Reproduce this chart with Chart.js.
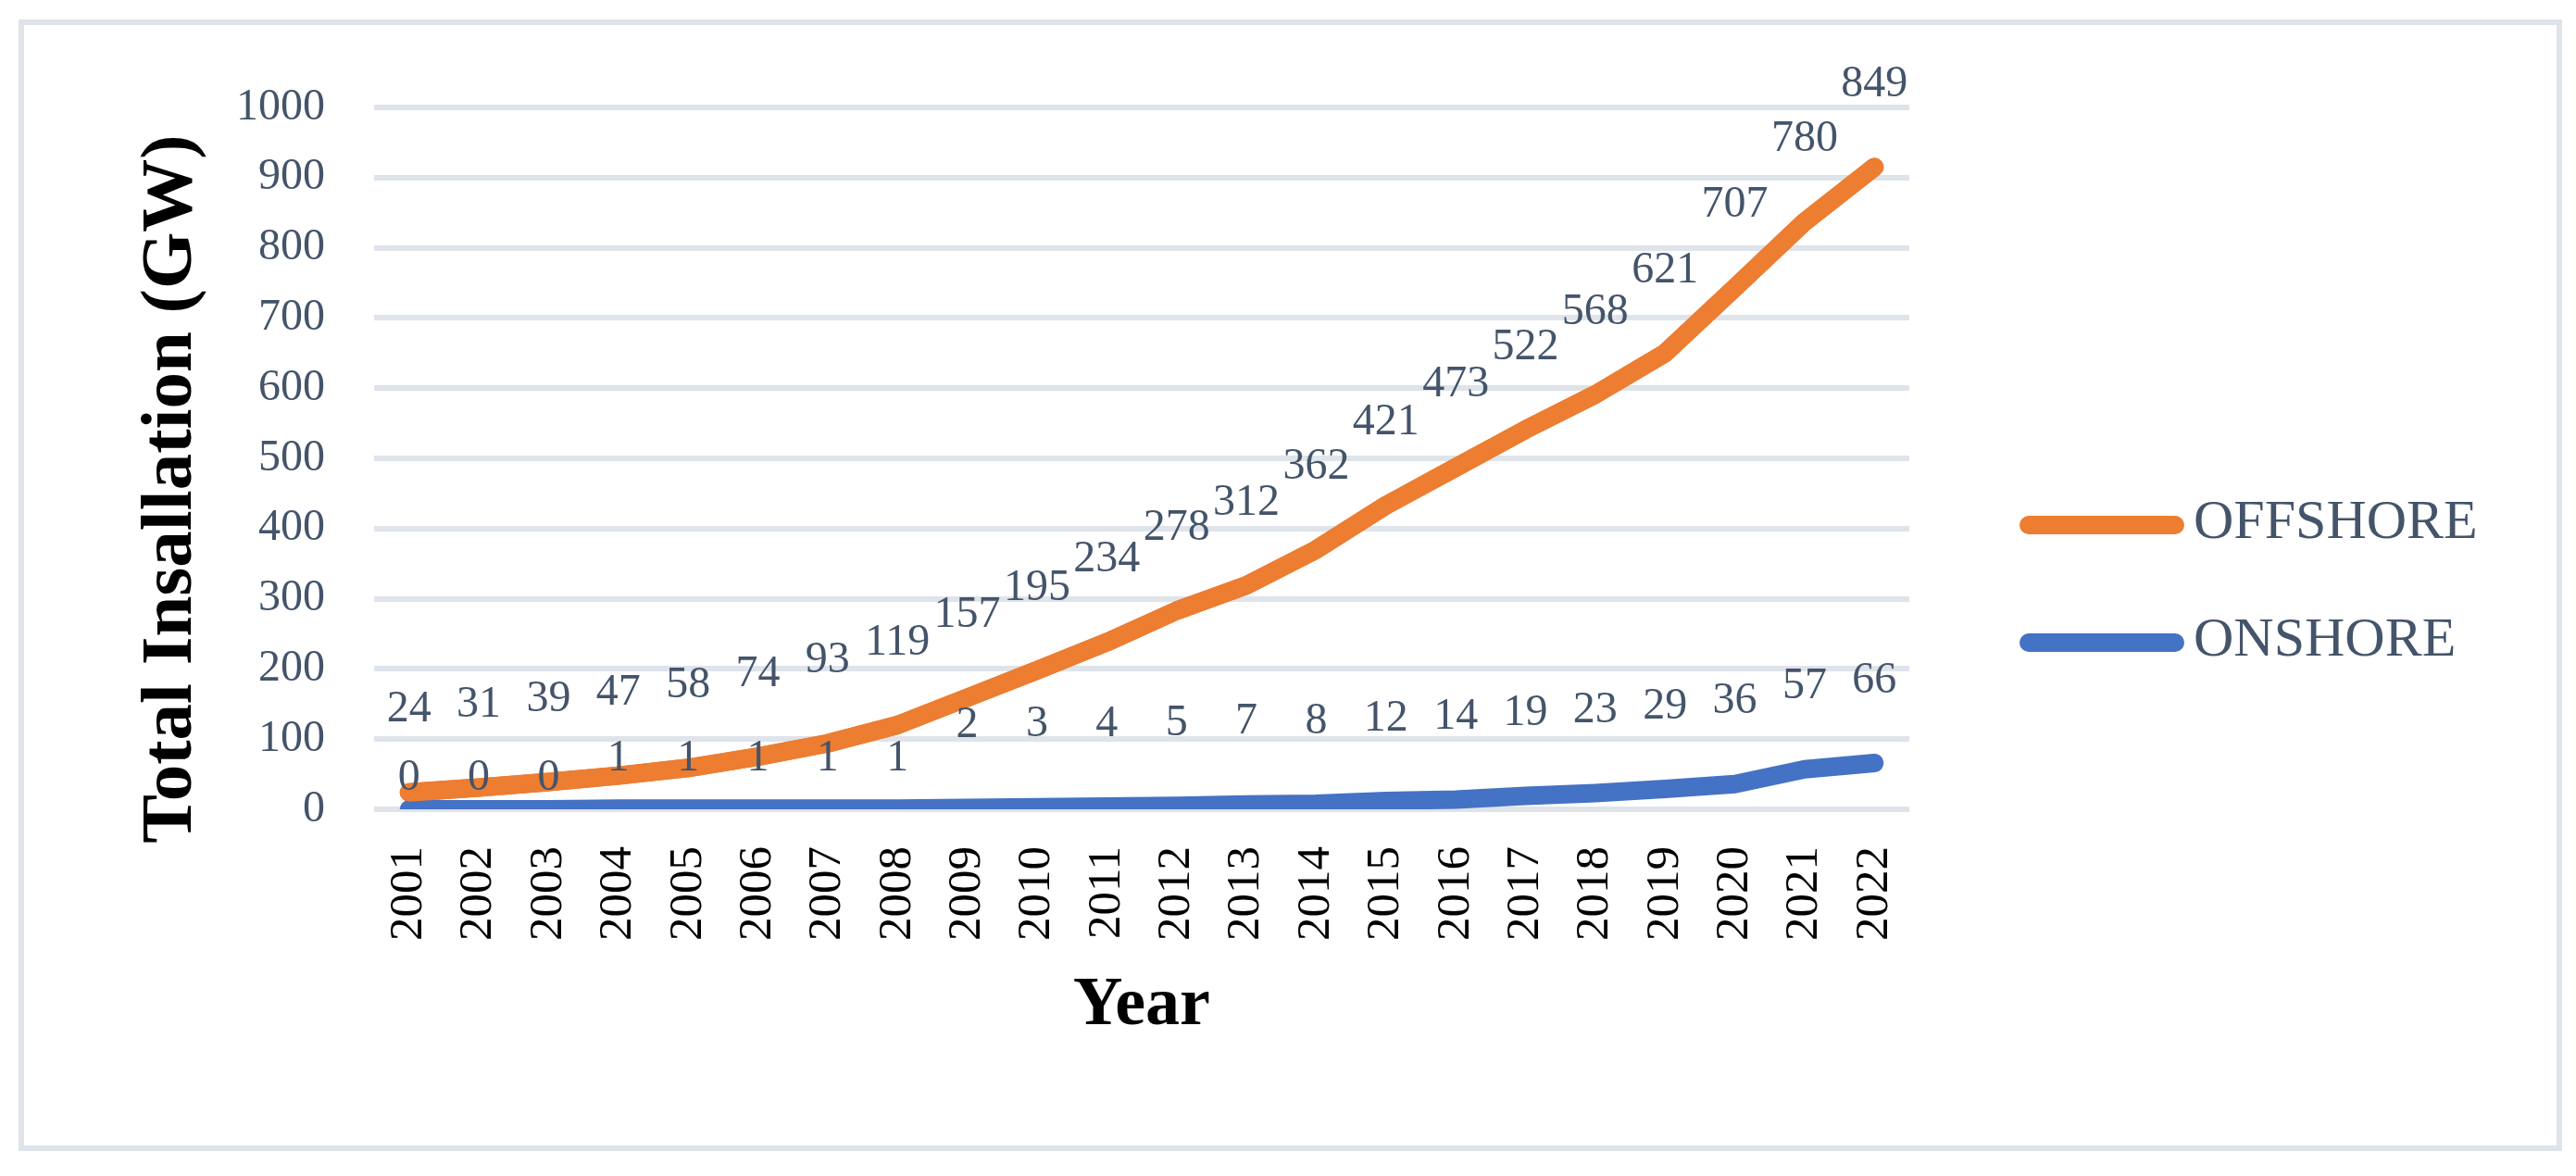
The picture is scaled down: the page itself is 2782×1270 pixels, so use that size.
<!DOCTYPE html>
<html>
<head>
<meta charset="utf-8">
<script src="https://cdn.jsdelivr.net/npm/chart.js@4.4.1/dist/chart.umd.min.js"></script>
<style>
  html, body { margin: 0; padding: 0; background: #ffffff; }
  #wrap { width: 2782px; height: 1270px; position: relative; }
</style>
</head>
<body>
<div id="wrap"><canvas id="chart"></canvas></div>
<script>
const years = ["2001", "2002", "2003", "2004", "2005", "2006", "2007", "2008", "2009", "2010", "2011",
  "2012", "2013", "2014", "2015", "2016", "2017", "2018", "2019", "2020", "2021", "2022"];
const onshore = [0, 0, 0, 1, 1, 1, 1, 1, 2, 3, 4, 5, 7, 8, 12, 14, 19, 23, 29, 36, 57, 66];
const offshore = [24, 31, 39, 47, 58, 74, 93, 119, 157, 195, 234, 278, 312, 362, 421, 473, 522, 568, 621, 707, 780, 849];
const yMin = 0;
const yMax = 1000;
const yStep = 100;
const yTitle = 'Total Insallation (GW)';
const xTitle = 'Year';

const TEXT = '#44546A';
const GRID = '#DFE3EA';
const ORANGE = '#ED7D31';
const BLUE = '#4472C4';
const SERIF = '"Liberation Serif", "Times New Roman", serif';

// frame round the whole figure
const framePlugin = {
  id: 'frame',
  beforeDraw(chart) {
    const ctx = chart.ctx;
    ctx.save();
    ctx.strokeStyle = GRID;
    ctx.lineWidth = 6;
    ctx.strokeRect(23, 24, 2741, 1216);
    ctx.restore();
  }
};

// vertical axis title, sits a little below the plot centre like the original
const yTitlePlugin = {
  id: 'yTitle',
  afterDraw(chart) {
    const ctx = chart.ctx;
    ctx.save();
    ctx.translate(186, 528);
    ctx.rotate(-Math.PI / 2);
    ctx.font = 'bold 79px ' + SERIF;
    ctx.fillStyle = '#000000';
    ctx.textAlign = 'center';
    ctx.textBaseline = 'middle';
    ctx.fillText(yTitle, 0, 0);
    ctx.restore();
  }
};

// offshore line goes over onshore (as in Excel), then value labels above each point
const valueLabels = {
  id: 'valueLabels',
  afterDatasetsDraw(chart) {
    chart.getDatasetMeta(1).controller.draw();

    const ctx = chart.ctx;
    ctx.save();
    ctx.font = '48px ' + SERIF;
    ctx.fillStyle = TEXT;
    ctx.textAlign = 'center';
    ctx.textBaseline = 'middle';
    chart.data.datasets.forEach((ds, di) => {
      const meta = chart.getDatasetMeta(di);
      meta.data.forEach((pt, i) => {
        const v = ds.data[i];
        let lift = 89;
        if (ds.label === 'ONSHORE' && v < 2) lift = 34 + 20 * v;
        ctx.fillText(String(v), pt.x, pt.y - lift);
      });
    });
    ctx.restore();
  }
};

// legend on the right, top series first
const sideLegend = {
  id: 'sideLegend',
  afterDraw(chart) {
    const ctx = chart.ctx;
    const items = chart.data.datasets.slice().reverse();
    ctx.save();
    ctx.font = '60px ' + SERIF;
    ctx.textBaseline = 'middle';
    ctx.textAlign = 'left';
    items.forEach((ds, i) => {
      const y = 567 + i * 127;
      ctx.strokeStyle = ds.borderColor;
      ctx.lineWidth = ds.borderWidth;
      ctx.lineCap = 'round';
      ctx.beginPath();
      ctx.moveTo(2191, y);
      ctx.lineTo(2349, y);
      ctx.stroke();
      ctx.fillStyle = TEXT;
      ctx.fillText(ds.label, 2369, y - 2);
    });
    ctx.restore();
  }
};

new Chart(document.getElementById('chart'), {
  type: 'line',
  data: {
    labels: years,
    datasets: [
      {
        label: 'ONSHORE',
        data: onshore,
        borderColor: BLUE,
        backgroundColor: BLUE,
        borderWidth: 20,
        borderCapStyle: 'round',
        borderJoinStyle: 'round',
        pointRadius: 0,
        tension: 0,
        fill: false
      },
      {
        label: 'OFFSHORE',
        data: offshore,
        borderColor: ORANGE,
        backgroundColor: ORANGE,
        borderWidth: 20,
        borderCapStyle: 'round',
        borderJoinStyle: 'round',
        pointRadius: 0,
        tension: 0,
        fill: false
      }
    ]
  },
  options: {
    responsive: true,
    maintainAspectRatio: false,
    animation: false,
    devicePixelRatio: 1,
    layout: { padding: { left: 138, right: 720, top: 116, bottom: 0 } },
    plugins: {
      legend: { display: false },
      tooltip: { enabled: false }
    },
    scales: {
      x: {
        offset: true,
        grid: { display: false, drawTicks: false },
        border: { display: false },
        ticks: {
          color: '#000000',
          font: { family: SERIF, size: 51 },
          minRotation: 90,
          maxRotation: 90,
          padding: 40,
          autoSkip: false
        },
        title: {
          display: true,
          text: xTitle,
          color: '#000000',
          font: { family: SERIF, size: 74, weight: 'bold' },
          padding: { top: 0, bottom: 139 }
        },
        afterFit(scale) { scale.height = 396; }
      },
      y: {
        stacked: true,
        min: yMin,
        max: yMax,
        grid: { color: GRID, lineWidth: 6, drawTicks: false },
        border: { display: false },
        ticks: {
          stepSize: yStep,
          color: TEXT,
          font: { family: SERIF, size: 48 },
          padding: 53,
          callback: (v) => String(v)
        },
        title: { display: false },
        afterFit(scale) { scale.width = 266; }
      }
    }
  },
  plugins: [framePlugin, valueLabels, sideLegend, yTitlePlugin]
});
</script>
</body>
</html>
